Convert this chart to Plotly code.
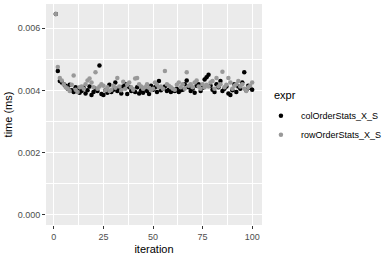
import plotly.graph_objects as go

iteration = list(range(1, 101))
col_order = [0.00645, 0.00462, 0.00430, 0.00425, 0.00420, 0.00415, 0.00405, 0.00418, 0.00400, 0.00395,
             0.00410, 0.00402, 0.00392, 0.00398, 0.00408, 0.00390, 0.00400, 0.00412, 0.00385, 0.00395,
             0.00405, 0.00398, 0.00480, 0.00388, 0.00385, 0.00400, 0.00392, 0.00418, 0.00395, 0.00402,
             0.00425, 0.00398, 0.00405, 0.00390, 0.00412, 0.00420, 0.00388, 0.00410, 0.00398, 0.00402,
             0.00395, 0.00410, 0.00390, 0.00400, 0.00392, 0.00405, 0.00398, 0.00388, 0.00415, 0.00402,
             0.00410, 0.00395, 0.00430, 0.00400, 0.00405, 0.00412, 0.00398, 0.00402, 0.00395, 0.00400,
             0.00398, 0.00405, 0.00395, 0.00400, 0.00402, 0.00420, 0.00432, 0.00410, 0.00398, 0.00405,
             0.00392, 0.00415, 0.00420, 0.00398, 0.00408, 0.00435, 0.00442, 0.00450, 0.00415, 0.00402,
             0.00395, 0.00420, 0.00410, 0.00430, 0.00398, 0.00405, 0.00412, 0.00390, 0.00385, 0.00400,
             0.00420, 0.00395, 0.00412, 0.00405, 0.00425, 0.00458, 0.00400, 0.00415, 0.00408, 0.00402]
row_order = [0.00645, 0.00475, 0.00440, 0.00432, 0.00420, 0.00410, 0.00405, 0.00398, 0.00418, 0.00448,
             0.00402, 0.00395, 0.00410, 0.00412, 0.00405, 0.00420, 0.00432, 0.00438, 0.00425, 0.00410,
             0.00458, 0.00405, 0.00412, 0.00420, 0.00415, 0.00400, 0.00410, 0.00398, 0.00402, 0.00415,
             0.00408, 0.00440, 0.00412, 0.00400, 0.00428, 0.00405, 0.00418, 0.00425, 0.00410, 0.00402,
             0.00438, 0.00440, 0.00420, 0.00412, 0.00405, 0.00410, 0.00420, 0.00408, 0.00400, 0.00405,
             0.00425, 0.00418, 0.00410, 0.00412, 0.00405, 0.00462, 0.00420, 0.00415, 0.00410, 0.00405,
             0.00402, 0.00418, 0.00425, 0.00410, 0.00420, 0.00405, 0.00458, 0.00415, 0.00420, 0.00410,
             0.00425, 0.00432, 0.00412, 0.00405, 0.00420, 0.00410, 0.00418, 0.00412, 0.00425, 0.00430,
             0.00405, 0.00440, 0.00412, 0.00420, 0.00460, 0.00410, 0.00418, 0.00440, 0.00425, 0.00405,
             0.00415, 0.00420, 0.00430, 0.00412, 0.00420, 0.00405, 0.00398, 0.00410, 0.00415, 0.00425]
series_names = ["colOrderStats_X_S", "rowOrderStats_X_S"]
series_colors = ["#000000", "#999999"]
x_ticks = [0, 25, 50, 75, 100]
y_ticks = [0.000, 0.002, 0.004, 0.006]
y_tick_labels = ["0.000", "0.002", "0.004", "0.006"]

fig = go.Figure()
for name, vals, color in zip(series_names, [col_order, row_order], series_colors):
    fig.add_trace(go.Scatter(x=iteration, y=vals, mode="markers", name=name,
                             marker=dict(color=color, size=4.5, line=dict(width=0))))

ymax = max(max(col_order), max(row_order))
pad = 0.05 * ymax
font = "Liberation Sans, Arial, sans-serif"

fig.update_layout(
    width=390, height=260,
    margin=dict(l=46, r=128, t=4, b=35, autoexpand=False),
    paper_bgcolor="white", plot_bgcolor="#EBEBEB",
    font=dict(family=font, size=9, color="#4D4D4D"),
    showlegend=True,
    legend=dict(
        x=0.995, y=0.56, xanchor="left", yanchor="top",
        font=dict(size=9, color="#000000"),
        bgcolor="rgba(0,0,0,0)", tracegroupgap=0,
    ),
    annotations=[dict(text="expr", xref="paper", yref="paper", x=1.045, y=0.588,
                      xanchor="left", yanchor="middle", showarrow=False,
                      font=dict(size=11, color="#000000"))],
    xaxis=dict(
        range=[1 - 0.05 * 99, 100 + 0.05 * 99],
        tickvals=x_ticks, ticktext=[str(t) for t in x_ticks],
        showgrid=True, gridcolor="white", gridwidth=1.1,
        minor=dict(dtick=12.5, tick0=0, showgrid=True, gridcolor="white", gridwidth=0.5),
        zeroline=False, ticks="outside", ticklen=3, tickcolor="#333333", tickwidth=1,
        title=dict(text="iteration", font=dict(size=11, color="#000000"), standoff=4),
        tickfont=dict(size=9, color="#4D4D4D"),
    ),
    yaxis=dict(
        range=[-pad, ymax + pad],
        tickvals=y_ticks, ticktext=y_tick_labels,
        showgrid=True, gridcolor="white", gridwidth=1.1,
        minor=dict(dtick=0.001, tick0=0, showgrid=True, gridcolor="white", gridwidth=0.5),
        zeroline=False, ticks="outside", ticklen=3, tickcolor="#333333", tickwidth=1,
        title=dict(text="time (ms)", font=dict(size=11, color="#000000"), standoff=2),
        tickfont=dict(size=9, color="#4D4D4D"),
    ),
)

fig.write_html("out.html")
